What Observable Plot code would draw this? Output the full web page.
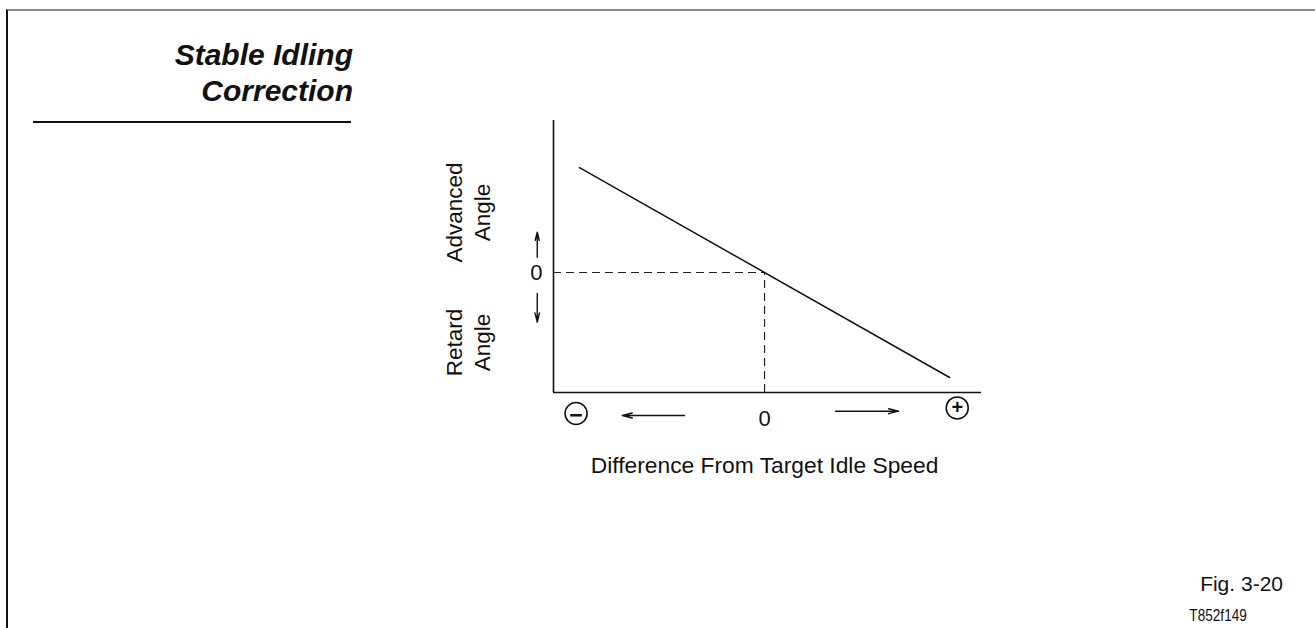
<!DOCTYPE html>
<html>
<head>
<meta charset="utf-8">
<script src="https://cdn.jsdelivr.net/npm/d3@7"></script>
<script src="https://cdn.jsdelivr.net/npm/@observablehq/plot@0.6"></script>
<style>
  html, body { margin: 0; padding: 0; background: #fff; }
  #page { position: relative; width: 1315px; height: 628px; overflow: hidden; font-family: "Liberation Sans", Arial, Helvetica, sans-serif; color: #111; }
  #chart { position: absolute; left: 0; top: 0; }
  .frame { position: absolute; left: 6px; top: 9px; width: 1309px; height: 619px; border-top: 2px solid #8a8a8a; border-left: 2px solid #111; box-sizing: border-box; }
  .title { position: absolute; right: 962px; top: 37px; font-size: 30px; line-height: 36px; font-weight: bold; font-style: italic; text-align: right; white-space: nowrap; }
  .rule { position: absolute; left: 33px; top: 121px; width: 318px; height: 2px; background: #111; }
  .fig { position: absolute; right: 32px; top: 573px; font-size: 21px; line-height: 21px; white-space: nowrap; }
  .code { position: absolute; right: 68px; top: 607px; font-size: 17px; line-height: 17px; font-family: "Liberation Sans", Arial, sans-serif; white-space: nowrap; transform: scaleX(0.8); transform-origin: right center; }
</style>
</head>
<body>
<div id="page">
  <div id="chart"></div>
  <div class="frame"></div>
  <div class="title">Stable Idling<br>Correction</div>
  <div class="rule"></div>
  <div class="fig">Fig. 3-20</div>
  <div class="code">T852f149</div>
</div>
<script>
// Correction line: difference from target idle speed (x) vs. ignition angle correction (y)
const speedDiff = [-0.877, 0.877];
const angleCorr = [1.0, -1.0];

// Axis domains
const xDomain = [-1, 1.028];
const yDomain = [-1.143, 1.448];

// Tick labels
const xTicks = [0];
const yTicks = [0];

// Y-axis side labels
const yLabelText = ["Advanced\nAngle", "Retard\nAngle"];
const yLabelX = [-1.408, -1.408];
const yLabelY = [0.571, -0.667];

// Direction arrows
const arrowX1 = [-0.379, 0.336, -1.077, -1.077];
const arrowX2 = [-0.674, 0.635, -1.077, -1.077];
const arrowY1 = [-1.362, -1.321, 0.146, -0.2];
const arrowY2 = [-1.362, -1.321, 0.384, -0.473];

// Circled sign markers
const signText = ["\u2212", "+"];
const signX = [-0.893, 0.913];
const signY = [-1.343, -1.29];

const xLabel = "Difference From Target Idle Speed";

const lineData = speedDiff.map((x, i) => ({x, y: angleCorr[i]}));
const yLabels = yLabelText.map((t, i) => ({t, x: yLabelX[i], y: yLabelY[i]}));
const arrows = arrowX1.map((x1, i) => ({x1, x2: arrowX2[i], y1: arrowY1[i], y2: arrowY2[i]}));
const signs = signText.map((t, i) => ({t, x: signX[i], y: signY[i]}));

const chart = Plot.plot({
  width: 1315,
  height: 628,
  marginLeft: 553,
  marginRight: 334,
  marginTop: 120,
  marginBottom: 236,
  style: {background: "transparent", fontFamily: "Liberation Sans, Arial, Helvetica, sans-serif", fontSize: "22px", color: "#111", overflow: "visible"},
  x: {domain: xDomain},
  y: {domain: yDomain},
  marks: [
    Plot.ruleX([xDomain[0]], {stroke: "#111", strokeWidth: 1.6}),
    Plot.ruleY([yDomain[0]], {stroke: "#111", strokeWidth: 1.6}),
    Plot.ruleY([0], {x1: xDomain[0], x2: 0, stroke: "#222", strokeWidth: 1.2, strokeDasharray: "8,5"}),
    Plot.ruleX([0], {y1: yDomain[0], y2: 0, stroke: "#222", strokeWidth: 1.2, strokeDasharray: "8,5"}),
    Plot.line(lineData, {x: "x", y: "y", stroke: "#111", strokeWidth: 1.5}),
    Plot.axisX({ticks: xTicks, tickSize: 0, tickPadding: 18, fontSize: 22, label: null, tickFormat: d => String(d)}),
    Plot.axisY({ticks: yTicks, tickSize: 0, tickPadding: 11, fontSize: 22, label: null, tickFormat: d => String(d)}),
    Plot.text(yLabels, {x: "x", y: "y", text: "t", rotate: -90, fontSize: 22.5, lineHeight: 1.25, textAnchor: "middle", lineAnchor: "middle", fill: "#111"}),
    Plot.arrow(arrows, {x1: "x1", y1: "y1", x2: "x2", y2: "y2", stroke: "#111", strokeWidth: 1.4, headLength: 11, headAngle: 28}),
    Plot.dot(signs, {x: "x", y: "y", r: 11, stroke: "#111", strokeWidth: 1.6, fill: "white"}),
    Plot.text(signs, {filter: d => d.t === "\u2212", x: "x", y: "y", text: "t", fontSize: 23, fontWeight: "bold", fill: "#111", dy: 2}),
    Plot.text(signs, {filter: d => d.t === "+", x: "x", y: "y", text: "t", fontSize: 20, fontWeight: "bold", fill: "#111", dy: 0}),
    Plot.text([xLabel], {x: 0, frameAnchor: "bottom", dy: 80, fontSize: 22.8, lineAnchor: "bottom", fill: "#111"})
  ]
});
document.getElementById("chart").appendChild(chart);
</script>
</body>
</html>
